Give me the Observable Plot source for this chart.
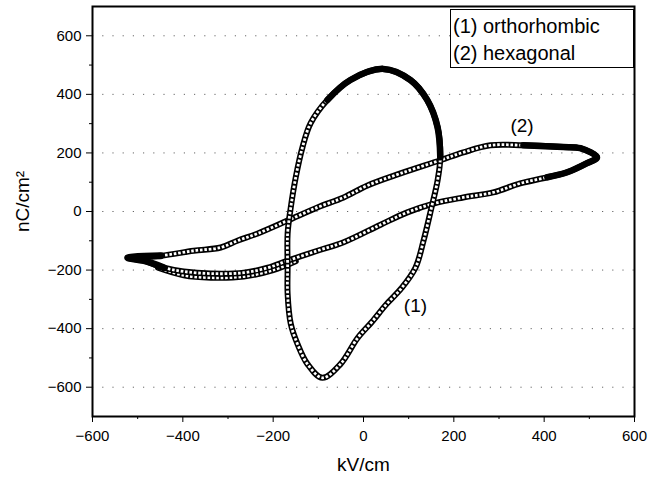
<!DOCTYPE html>
<html>
<head>
<meta charset="utf-8">
<script src="https://cdn.jsdelivr.net/npm/d3@7"></script>
<script src="https://cdn.jsdelivr.net/npm/@observablehq/plot@0.6"></script>
<style>
  html, body { margin: 0; padding: 0; background: white; }
  #wrap { position: relative; width: 648px; height: 482px; font-family: 'Liberation Sans', Arial, sans-serif; }
  #legend { position: absolute; left: 450px; top: 9px; width: 184px; height: 59px; border: 1px solid #000;
            background: white; font-size: 20px; line-height: 27px; padding-left: 2px; box-sizing: border-box; padding-top: 3px; }
</style>
</head>
<body>
<div id="wrap"><div id="legend"><div>(1) orthorhombic</div><div>(2) hexagonal</div></div></div>
<script>
// Loop (1) orthorhombic: field E (kV/cm) and polarization P (nC/cm^2), traced around the loop
const orthoX = [44, 104, 141, 164, 170, 164, 150, 133, 115, 84, 50, 18, -13, -51, -91, -124, -146, -161, -168, -168, -168, -161, -150, -135, -117, -80, -29];
const orthoY = [487, 449, 381, 288, 185, 106, 10, -99, -192, -262, -318, -378, -432, -521, -568, -521, -453, -384, -281, -192, -75, 14, 117, 220, 302, 381, 449];
// Loop (2) hexagonal
const hexX = [-522, -449, -376, -316, -278, -234, -168, -102, -44, 9, 82, 170, 221, 281, 354, 442, 480, 517,
              495, 451, 407, 347, 287, 221, 155, 97, 38, -44, -102, -168, -212, -265, -338, -398, -442, -486];
const hexY = [-158, -151, -134, -123, -99, -75, -31, 14, 48, 89, 130, 175, 202, 226, 226, 220, 216, 185,
              165, 134, 117, 96, 65, 48, 27, -3, -45, -105, -134, -168, -192, -209, -212, -205, -192, -168];
// second, slightly lower pass of the hexagonal loop's lower branch
const hexLow2X = [-150, -200, -265, -338, -398, -455];
const hexLow2Y = [-170, -200, -222, -226, -218, -192];
const xTicks = [-600, -400, -200, 0, 200, 400, 600];
const xMinor = [-500, -300, -100, 100, 300, 500];
const yTicks = [-600, -400, -200, 0, 200, 400, 600];
const yMinor = [-500, -300, -100, 100, 300, 500];
const curveLabels = ["(1)", "(2)"];
const curveLabelX = [115, 351];
const curveLabelY = [-322, 292];

const ortho = orthoX.map((x, i) => ({x, y: orthoY[i]}));
const hex = hexX.map((x, i) => ({x, y: hexY[i]}));
const hexLow2 = hexLow2X.map((x, i) => ({x, y: hexLow2Y[i]}));
const lbl = curveLabels.map((t, i) => ({t, x: curveLabelX[i], y: curveLabelY[i]}));

// stretches where the markers overlap so densely that they print solid black
const orthoDense = [...ortho.slice(25), ...ortho.slice(0, 5)];
const hexDenseRight = [...hex.slice(14, 21)];
const hexDenseLeft = [...hex.slice(34), ...hex.slice(0, 2)];

function chain(data, curve) {
  return [
    Plot.line(data, {x: "x", y: "y", curve, stroke: "black", strokeWidth: 6}),
    Plot.line(data, {x: "x", y: "y", curve, stroke: "white", strokeWidth: 2.8, strokeDasharray: "2.6,1.8", strokeLinecap: "butt"})
  ];
}
function dense(data, w) {
  return Plot.line(data, {x: "x", y: "y", curve: "catmull-rom", stroke: "black", strokeWidth: w});
}

const chart = Plot.plot({
  width: 648, height: 482,
  marginTop: 6, marginBottom: 66, marginLeft: 92, marginRight: 14,
  x: {domain: [-600, 600], label: null},
  y: {domain: [-700, 700], label: null},
  style: {fontFamily: "'Liberation Sans', Arial, sans-serif", fontSize: "15px", background: "white", color: "black"},
  marks: [
    Plot.gridY(yTicks, {stroke: "#000", strokeOpacity: 0.6, strokeDasharray: "1.2,9"}),
    ...chain(hexLow2, "catmull-rom"),
    ...chain(hex, "catmull-rom-closed"),
    dense(hexDenseRight, 6.5),
    dense(hexDenseLeft, 7),
    ...chain(ortho, "catmull-rom-closed"),
    dense(orthoDense, 6.5),
    Plot.frame({stroke: "black", strokeWidth: 2}),
    Plot.axisX(xTicks, {tickSize: 6, tickPadding: 8, fontSize: 15, label: null}),
    Plot.axisX(xMinor, {tickSize: 3, tickFormat: () => "", label: null}),
    Plot.axisY(yTicks, {tickSize: 6, tickPadding: 5, fontSize: 15, label: null}),
    Plot.axisY(yMinor, {tickSize: 3, tickFormat: () => "", label: null}),
    Plot.text(lbl, {x: "x", y: "y", text: "t", fontSize: 19}),
    Plot.text(["kV/cm"], {frameAnchor: "bottom", dy: 54, fontSize: 19}),
    Plot.text(["nC/cm²"], {frameAnchor: "left", dx: -70, dy: -10, rotate: -90, textAnchor: "middle", fontSize: 19})
  ]
});
document.getElementById("wrap").prepend(chart);
chart.style.position = "absolute";
chart.style.left = "0";
chart.style.top = "0";
</script>
</body>
</html>
